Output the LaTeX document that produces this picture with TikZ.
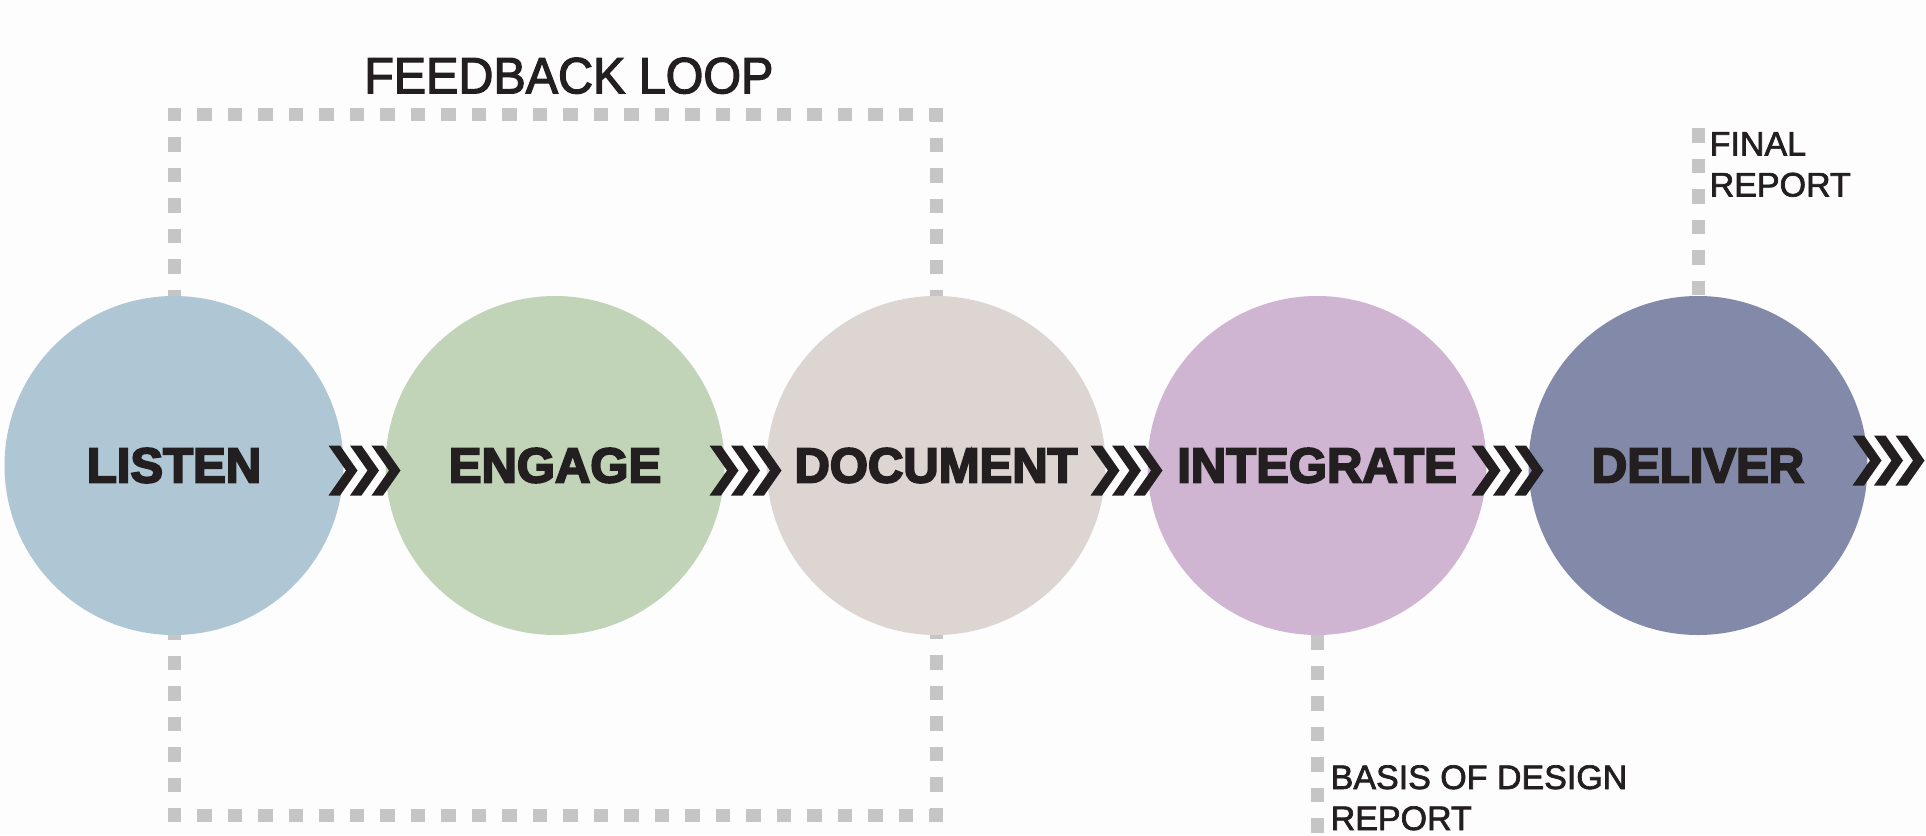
\documentclass[tikz,border=0pt]{standalone}
\usepackage{fontspec}
\setmainfont{Liberation Sans}
\newfontfamily\heavyfont[FakeBold=4]{Liberation Sans Bold}
\newfontfamily\notefont[FakeBold=2]{Liberation Sans}
\newfontfamily\titlefont[FakeBold=2.5,FakeStretch=0.95]{Liberation Sans}
\usetikzlibrary{calc}

\definecolor{paper}{HTML}{FDFDFD}
\definecolor{ink}{HTML}{231F20}
\definecolor{trailgray}{HTML}{C5C5C5}
\definecolor{cListen}{HTML}{AFC6D4}
\definecolor{cEngage}{HTML}{C2D4B8}
\definecolor{cDocument}{HTML}{DDD5D1}
\definecolor{cIntegrate}{HTML}{D0B5D2}
\definecolor{cDeliver}{HTML}{8389A8}

\tikzset{
  chevrons/.pic={
    \foreach \k in {0,1,2} {
      \fill[ink] ({-36+21.5*\k},-25) -- ++(11.5,0) -- ++(17.5,25)
        -- ++(-17.5,25) -- ++(-11.5,0) -- ++(17.5,-25) -- cycle;
    }
  }
}

\begin{document}
\begin{tikzpicture}[x=1pt,y=-1pt,
  stage/.style={circle, minimum size=339pt, inner sep=0pt, outer sep=0pt,
    text=ink, font=\heavyfont\fontsize{49}{49}\selectfont},
  trail/.style={draw=trailgray, line width=13pt,
    dash pattern=on 14.5pt off 16pt, line cap=butt, line join=miter},
  note/.style={text=ink, align=left, inner sep=0pt, anchor=base west,
    font=\notefont\fontsize{34}{41}\selectfont}
]
\fill[paper] (0,0) rectangle (1926,835);
\useasboundingbox (0,0) rectangle (1926,835);

% stage positions (shapes drawn later, over the dotted trails)
\path (174,465.5)  node[stage] (listen) {}
      (555,465.5)  node[stage] (engage) {}
      (936,465.5)  node[stage] (document) {}
      (1317,465.5) node[stage] (integrate) {}
      (1698,465.5) node[stage] (deliver) {};

\coordinate (fbTL) at (174,114);
\coordinate (fbTR) at (936,114);
\coordinate (fbBL) at (174,815.5);
\coordinate (fbBR) at (936,815.5);
\coordinate (frTop) at (1698,128);
\coordinate (bdEnd) at (1317,835);
\coordinate (beyond) at (2079,465.5);

% feedback loop and report branches
\draw[trail, dash phase=8.25pt] (listen.north) -- (fbTL) -- (fbTR) -- (document.north);
\draw[trail, dash phase=9.75pt] (listen.south) -- (fbBL) -- (fbBR) -- (document.south);
\draw[trail] (frTop) -- (deliver.north);
\draw[trail] (integrate.south) -- (bdEnd);

% stages
\node[stage, fill=cListen]    at (listen)    {LISTEN};
\node[stage, fill=cEngage]    at (engage)    {ENGAGE};
\node[stage, fill=cDocument]  at (document)  {DOCUMENT};
\node[stage, fill=cIntegrate] at (integrate) {INTEGRATE};
\node[stage, fill=cDeliver]   at (deliver)   {DELIVER};

% flow markers between stages
\pic at ($(listen)!0.5!(engage)+(0,5)$) {chevrons};
\pic at ($(engage)!0.5!(document)+(0,5)$) {chevrons};
\pic at ($(document)!0.5!(integrate)+(0,5)$) {chevrons};
\pic at ($(integrate)!0.5!(deliver)+(0,5)$) {chevrons};
\pic at ($(deliver)!0.5!(beyond)+(0,-5)$) {chevrons};

% labels
\node[note, font=\titlefont\fontsize{51}{51}\selectfont] (fbLabel) at (364,93.3) {FEEDBACK LOOP};
\node[note] (frLabel) at (1709.5,196.5) {FINAL\\REPORT};
\node[note] (bdLabel) at (1330.5,830) {BASIS OF DESIGN\\REPORT};
\end{tikzpicture}
\end{document}
